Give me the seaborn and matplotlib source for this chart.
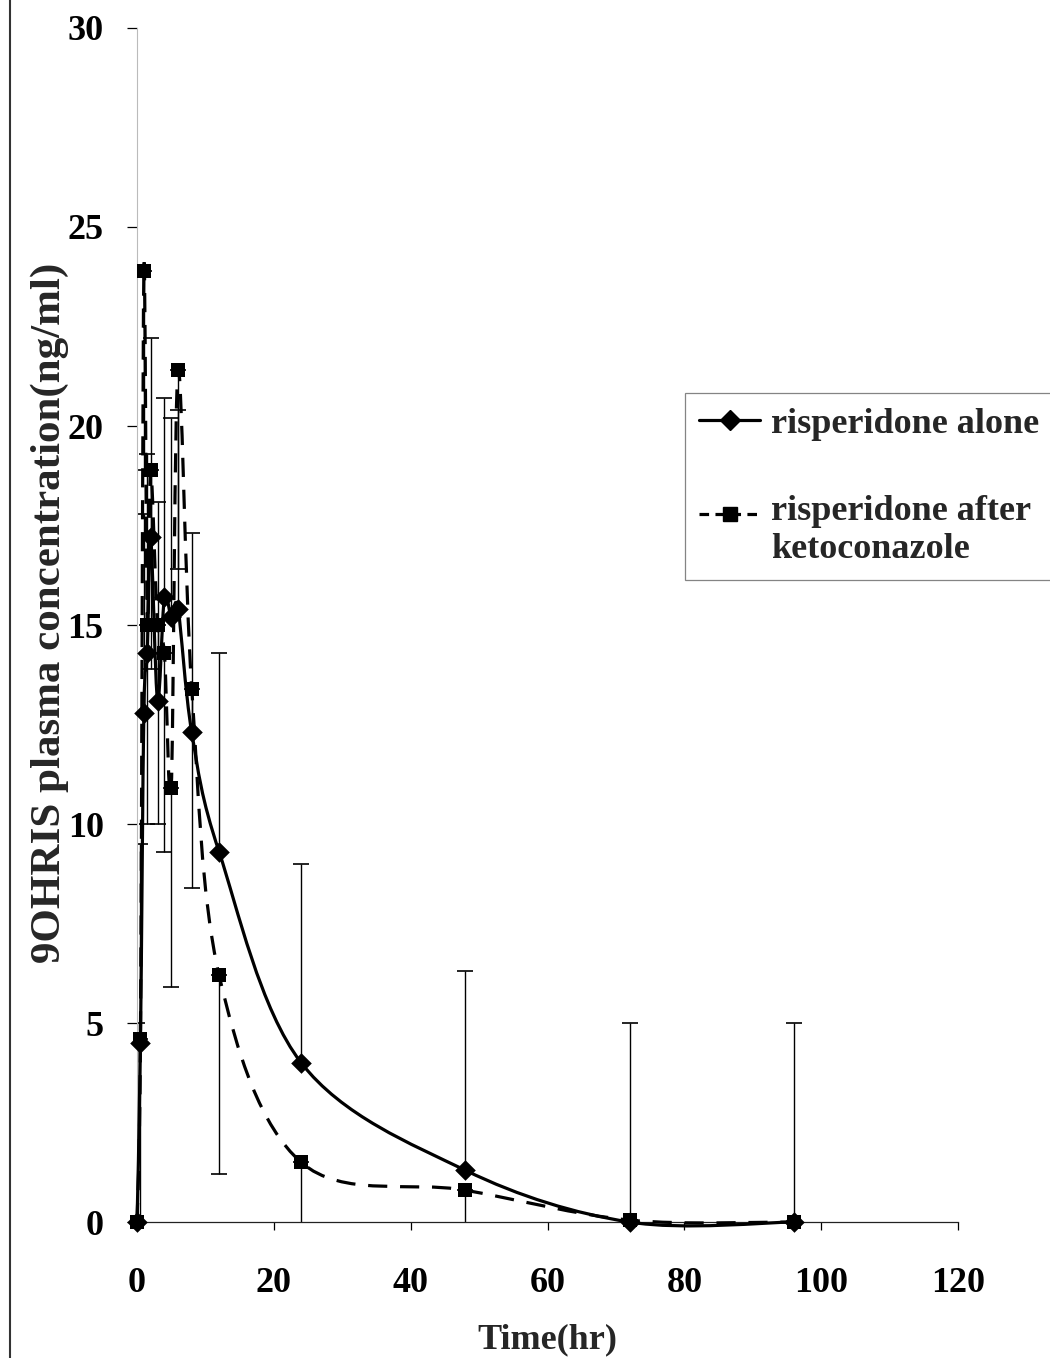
import numpy as np
import pandas as pd
import matplotlib
matplotlib.use("Agg")
import matplotlib.pyplot as plt
import seaborn as sns
from matplotlib.path import Path
from matplotlib.patches import PathPatch
from matplotlib.lines import Line2D
from matplotlib.legend_handler import HandlerLine2D

# Sampling times (hr)
time_hr = [0, 0.5, 1, 1.5, 2, 3, 4, 5, 6, 8, 12, 24, 48, 72, 96]

# Mean 9-OH-risperidone plasma concentrations (ng/ml)
conc_alone = [0, 4.5, 12.8, 14.3, 17.2, 13.1, 15.7, 15.2, 15.4, 12.3, 9.3, 4.0, 1.3, 0.0, 0.0]
conc_keto = [0, 4.6, 23.9, 15.0, 18.9, 15.0, 14.3, 10.9, 21.4, 13.4, 6.2, 1.5, 0.8, 0.05, 0.0]

# Error bar half-widths (ng/ml): upward for "alone", downward for "after ketoconazole"
err_alone = [5] * len(time_hr)
err_keto = [5] * len(time_hr)

label_alone = "risperidone alone"
label_keto = "risperidone after\nketoconazole"

x_ticks = [0, 20, 40, 60, 80, 100, 120]
y_ticks = [0, 5, 10, 15, 20, 25, 30]

sns.set_theme(style="white")
plt.rcParams["font.family"] = ["Liberation Serif", "DejaVu Serif"]
plt.rcParams["font.weight"] = "bold"

df = pd.DataFrame({
    "time": time_hr * 2,
    "conc": conc_alone + conc_keto,
    "group": ["alone"] * len(time_hr) + ["keto"] * len(time_hr),
})

fig = plt.figure(figsize=(10.5, 13.58), dpi=100)
ax = fig.add_axes([0.1305, 0.1001, 0.7819, 0.8793])


def smooth_path(x, y):
    """Cubic Bezier path through the points (Catmull-Rom style tangents)."""
    pts = np.column_stack([np.asarray(x, float), np.asarray(y, float)])
    n = len(pts)
    verts = [pts[0]]
    codes = [Path.MOVETO]
    for i in range(n - 1):
        p0 = pts[i - 1] if i > 0 else pts[i]
        p1 = pts[i]
        p2 = pts[i + 1]
        p3 = pts[i + 2] if i + 2 < n else pts[i + 1]
        verts += [p1 + (p2 - p0) / 6.0, p2 - (p3 - p1) / 6.0, p2]
        codes += [Path.CURVE4] * 3
    return Path(verts, codes)


class FirstLineHandler(HandlerLine2D):
    """Legend handle aligned with the first line of a two-line label."""

    def __init__(self, raise_pts=12.0, **kw):
        super().__init__(**kw)
        self.raise_pts = raise_pts

    def create_artists(self, legend, orig_handle, xdescent, ydescent,
                       width, height, fontsize, trans):
        return super().create_artists(legend, orig_handle, xdescent,
                                      ydescent - 2 * self.raise_pts,
                                      width, height, fontsize, trans)


# Error bars
ax.errorbar(time_hr, conc_alone, yerr=[np.zeros(len(time_hr)), err_alone],
            fmt="none", ecolor="black", elinewidth=1.0, capsize=5.5, capthick=1.2, zorder=2)
ax.errorbar(time_hr, conc_keto, yerr=[err_keto, np.zeros(len(time_hr))],
            fmt="none", ecolor="black", elinewidth=1.0, capsize=5.5, capthick=1.2, zorder=2)

# Smoothed connecting lines
ax.add_patch(PathPatch(smooth_path(time_hr, conc_alone), fill=False, edgecolor="black",
                       linewidth=2.3, linestyle="-", transform=ax.transData,
                       clip_on=False, zorder=3))
ax.add_patch(PathPatch(smooth_path(time_hr, conc_keto), fill=False, edgecolor="black",
                       linewidth=2.3, linestyle=(0, (6, 4)), transform=ax.transData,
                       clip_on=False, zorder=3))

# Markers
sns.scatterplot(data=df[df["group"] == "alone"], x="time", y="conc", marker="D",
                color="black", s=110, edgecolor="black", linewidth=0, legend=False,
                ax=ax, clip_on=False, zorder=4)
sns.scatterplot(data=df[df["group"] == "keto"], x="time", y="conc", marker="s",
                color="black", s=105, edgecolor="black", linewidth=0, legend=False,
                ax=ax, clip_on=False, zorder=4)

ax.set_xlim(0, 120)
ax.set_ylim(0, 30)
ax.set_xticks(x_ticks)
ax.set_yticks(y_ticks)
ax.set_xticklabels([str(v) for v in x_ticks])
ax.set_yticklabels([str(v) for v in y_ticks])

for side in ["top", "right"]:
    ax.spines[side].set_visible(False)
ax.spines["bottom"].set_color("#222222")
ax.spines["bottom"].set_linewidth(0.9)
ax.spines["left"].set_color("#bbbbbb")
ax.spines["left"].set_linewidth(0.8)

ax.tick_params(axis="x", direction="out", length=6, width=0.9, pad=26,
               labelsize=26, colors="black", bottom=True)
ax.tick_params(axis="y", direction="out", length=7, width=0.9, pad=17,
               labelsize=26, colors="black", left=True)
for lab in ax.get_xticklabels() + ax.get_yticklabels():
    lab.set_fontweight("bold")

ax.set_xlabel("Time(hr)", fontsize=26, fontweight="bold", labelpad=17)
ax.set_ylabel("9OHRIS plasma concentration(ng/ml)", fontsize=31, fontweight="bold")
ax.yaxis.set_label_coords(-0.083, 0.51)

h_alone = Line2D([0], [0], color="black", lw=2.3, marker="D", markersize=10.5,
                 label=label_alone)
h_keto = Line2D([0], [0], color="black", lw=2.3, linestyle=(0, (3, 2)), marker="s",
                markersize=10, label=label_keto)
leg = fig.legend(handles=[h_alone, h_keto], loc="upper left",
                 bbox_to_anchor=(0.652, 0.7106), bbox_transform=fig.transFigure,
                 fontsize=26, frameon=True, fancybox=False, handlelength=1.7,
                 handletextpad=0.3, labelspacing=1.5, borderpad=0.4, borderaxespad=0,
                 handler_map={h_keto: FirstLineHandler(raise_pts=12.0)})
leg.get_frame().set_edgecolor("#666666")
leg.get_frame().set_linewidth(0.9)
for t in leg.get_texts():
    t.set_fontweight("bold")

# Page frame line along the left margin
fig.add_artist(Line2D([0.0095, 0.0095], [0, 1], transform=fig.transFigure,
                      color="#333333", lw=1.5))

fig.savefig("out.png", dpi=100, facecolor="white")
